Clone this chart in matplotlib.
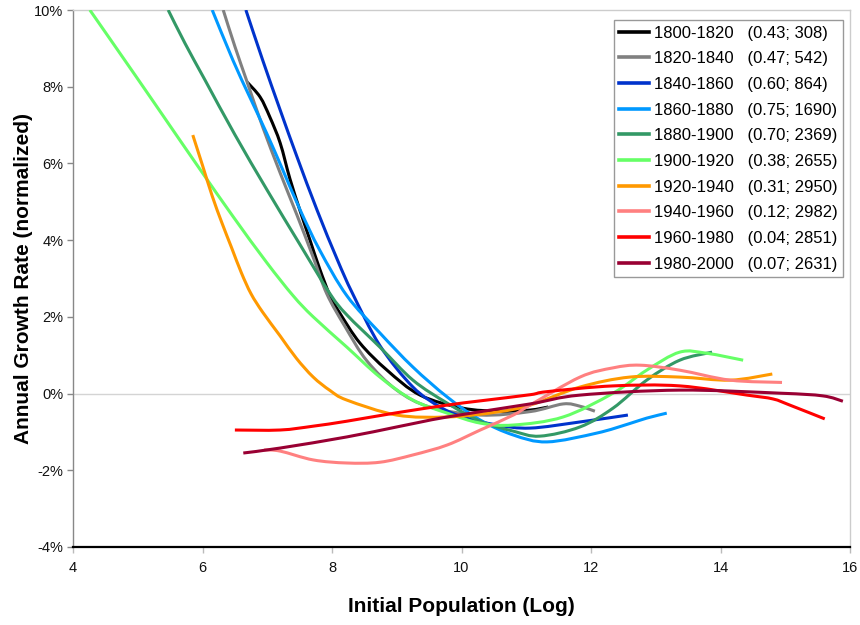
import matplotlib
matplotlib.use("Agg")
import matplotlib.pyplot as plt
from matplotlib.path import Path
from matplotlib.patches import PathPatch
from matplotlib.lines import Line2D
from matplotlib.ticker import FuncFormatter

plt.rcParams['font.family'] = ['Liberation Sans', 'DejaVu Sans']

# Initial population (log) vs. normalized annual growth rate (%), per period
periods = ["1800-1820", "1820-1840", "1840-1860", "1860-1880", "1880-1900",
           "1900-1920", "1920-1940", "1940-1960", "1960-1980", "1980-2000"]
stats = ["(0.43; 308)", "(0.47; 542)", "(0.60; 864)", "(0.75; 1690)", "(0.70; 2369)",
         "(0.38; 2655)", "(0.31; 2950)", "(0.12; 2982)", "(0.04; 2851)", "(0.07; 2631)"]
colors = ["#000000", "#808080", "#0033CC", "#0099FF", "#339966",
          "#66FF66", "#FF9900", "#FF8080", "#FF0000", "#990033"]

x_1800 = [6.69, 6.89, 7.04, 7.20, 7.35, 7.51, 7.66, 7.81, 7.97, 8.12, 8.43, 8.85, 9.36, 10.02, 10.59, 11.06, 11.34]
y_1800 = [8.12, 7.73, 7.21, 6.53, 5.60, 4.75, 4.00, 3.25, 2.55, 2.10, 1.32, 0.61, -0.04, -0.38, -0.46, -0.43, -0.35]

x_1820 = [6.32, 6.50, 6.69, 6.93, 7.20, 7.46, 7.71, 7.92, 8.20, 8.54, 9.00, 9.51, 10.29, 11.06, 11.57, 11.83, 12.06]
y_1820 = [10.0, 9.05, 8.12, 6.95, 5.75, 4.65, 3.55, 2.60, 1.75, 0.85, 0.09, -0.35, -0.56, -0.47, -0.27, -0.33, -0.46]

x_1840 = [6.67, 6.93, 7.20, 7.46, 7.77, 8.08, 8.32, 8.74, 9.25, 9.67, 10.02, 10.55, 11.06, 11.83, 12.57]
y_1840 = [10.0, 8.69, 7.39, 6.17, 4.78, 3.50, 2.60, 1.25, 0.17, -0.35, -0.61, -0.82, -0.90, -0.74, -0.56]

x_1860 = [6.15, 6.47, 6.73, 6.99, 7.24, 7.51, 7.81, 8.23, 8.74, 9.25, 9.78, 10.29, 10.80, 11.32, 12.09, 12.60, 12.86, 13.17]
y_1860 = [10.0, 8.69, 7.73, 6.79, 5.83, 4.78, 3.74, 2.55, 1.58, 0.69, -0.09, -0.69, -1.08, -1.26, -1.03, -0.78, -0.64, -0.51]

x_1880 = [5.47, 5.73, 6.04, 6.50, 7.00, 7.50, 7.97, 8.23, 8.74, 9.25, 9.78, 10.29, 10.80, 11.21, 11.83, 12.34, 12.86, 13.37, 13.87]
y_1880 = [10.0, 9.13, 8.17, 6.75, 5.30, 3.90, 2.60, 2.05, 1.21, 0.35, -0.25, -0.72, -0.98, -1.11, -0.87, -0.38, 0.35, 0.87, 1.08]

x_1900 = [4.26, 4.96, 5.47, 5.96, 6.47, 6.99, 7.40, 7.71, 8.23, 8.74, 9.25, 9.78, 10.29, 10.80, 11.57, 12.34, 12.86, 13.37, 13.79, 14.35]
y_1900 = [10.0, 8.30, 7.05, 5.85, 4.62, 3.42, 2.55, 2.00, 1.21, 0.43, -0.17, -0.51, -0.77, -0.82, -0.61, 0.01, 0.61, 1.08, 1.05, 0.87]

x_1920 = [5.85, 6.00, 6.15, 6.30, 6.45, 6.60, 6.75, 6.93, 7.20, 7.45, 7.71, 7.97, 8.23, 9.00, 9.78, 10.55, 11.06, 11.83, 12.60, 13.37, 14.15, 14.80]
y_1920 = [6.74, 5.95, 5.15, 4.45, 3.80, 3.15, 2.60, 2.12, 1.50, 0.92, 0.43, 0.08, -0.17, -0.56, -0.61, -0.48, -0.30, 0.17, 0.43, 0.43, 0.35, 0.51]

x_1940 = [6.95, 7.20, 7.71, 8.23, 8.74, 9.25, 9.78, 10.29, 10.80, 11.06, 11.83, 12.34, 12.76, 13.37, 14.15, 14.95]
y_1940 = [-1.47, -1.50, -1.73, -1.81, -1.79, -1.60, -1.34, -0.95, -0.56, -0.30, 0.43, 0.67, 0.74, 0.61, 0.35, 0.29]

x_1960 = [6.50, 7.20, 7.71, 8.23, 9.00, 9.78, 10.29, 11.06, 11.32, 12.34, 13.37, 14.41, 14.81, 15.07, 15.61]
y_1960 = [-0.95, -0.95, -0.85, -0.72, -0.50, -0.30, -0.19, -0.03, 0.05, 0.20, 0.20, -0.04, -0.14, -0.30, -0.66]

x_1980 = [6.63, 7.20, 8.23, 9.00, 9.78, 11.06, 11.83, 13.37, 14.92, 15.58, 15.89]
y_1980 = [-1.55, -1.42, -1.13, -0.87, -0.61, -0.27, -0.04, 0.09, 0.01, -0.06, -0.20]

xs = [x_1800, x_1820, x_1840, x_1860, x_1880, x_1900, x_1920, x_1940, x_1960, x_1980]
ys = [y_1800, y_1820, y_1840, y_1860, y_1880, y_1900, y_1920, y_1940, y_1960, y_1980]

x_ticks = [4, 6, 8, 10, 12, 14, 16]
y_ticks = [-4, -2, 0, 2, 4, 6, 8, 10]


def smoothed_path(xv, yv):
    """Cubic Bezier path through the points (Catmull-Rom style smoothed line)."""
    pts = list(zip(xv, yv))
    n = len(pts)
    verts = [pts[0]]
    codes = [Path.MOVETO]
    for i in range(n - 1):
        p0 = pts[i - 1] if i > 0 else pts[i]
        p1 = pts[i]
        p2 = pts[i + 1]
        p3 = pts[i + 2] if i + 2 < n else pts[i + 1]
        c1 = (p1[0] + (p2[0] - p0[0]) / 6, p1[1] + (p2[1] - p0[1]) / 6)
        c2 = (p2[0] - (p3[0] - p1[0]) / 6, p2[1] - (p3[1] - p1[1]) / 6)
        verts += [c1, c2, p2]
        codes += [Path.CURVE4] * 3
    return Path(verts, codes)


fig = plt.figure(figsize=(8.6, 6.25), dpi=100)
ax = fig.add_axes([73 / 860, 1 - 547 / 625, 777 / 860, 537 / 625])

ax.axhline(0, color="#d4d4d4", lw=1.0, zorder=1)

handles = []
for xv, yv, c, p, s in zip(xs, ys, colors, periods, stats):
    patch = PathPatch(smoothed_path(xv, yv), facecolor="none", edgecolor=c,
                      lw=2.2, capstyle="butt", joinstyle="round", zorder=3)
    ax.add_patch(patch)
    handles.append(Line2D([], [], color=c, lw=2.6, label=f"{p}   {s}"))

ax.set_xlim(4, 16)
ax.set_ylim(-4, 10)
ax.set_xticks(x_ticks)
ax.set_yticks(y_ticks)
ax.yaxis.set_major_formatter(FuncFormatter(lambda v, _: f"{v:.0f}%"))

for side in ("top", "right"):
    ax.spines[side].set_color("#cccccc")
    ax.spines[side].set_linewidth(1.0)
ax.spines["left"].set_color("#888888")
ax.spines["left"].set_linewidth(1.0)
ax.spines["bottom"].set_color("#000000")
ax.spines["bottom"].set_linewidth(1.6)

ax.tick_params(axis="y", direction="out", length=4, width=1, color="#888888",
               labelsize=10.5, pad=3, labelcolor="#111111")
ax.tick_params(axis="x", direction="out", length=4, width=1, color="#bbbbbb",
               labelsize=10.5, pad=6, labelcolor="#111111")

ax.set_xlabel("Initial Population (Log)", fontsize=15, fontweight="bold", labelpad=16)
ax.set_ylabel("Annual Growth Rate (normalized)", fontsize=15, fontweight="bold", labelpad=1)

leg = ax.legend(handles=handles, loc="upper right", bbox_to_anchor=(0.991, 0.981),
                borderaxespad=0, fontsize=12, frameon=True, fancybox=False, framealpha=1,
                edgecolor="#999999", handlelength=1.8, handletextpad=0.3,
                labelspacing=0.64, borderpad=0.32)
leg.get_frame().set_linewidth(1.0)

fig.savefig("out.png", dpi=100)
